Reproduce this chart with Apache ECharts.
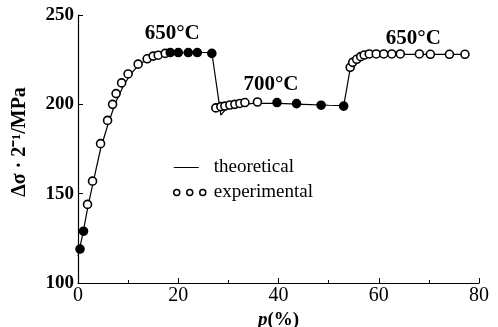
<!DOCTYPE html>
<html>
<head>
<meta charset="utf-8">
<script src="https://cdn.jsdelivr.net/npm/echarts@6/dist/echarts.min.js"></script>
<style>
  html, body { margin: 0; padding: 0; background: #fff; }
  #chart { width: 498px; height: 327px; }
</style>
</head>
<body>
<div id="chart"></div>
<script>
// experimental points
const expX = [0.4, 1.1, 1.9, 2.9, 4.5, 5.9, 6.9, 7.6, 8.7, 10.0, 12.0, 13.8, 15.0, 16.0, 17.4, 18.4, 20.0, 22.0, 23.8, 26.7,
  27.5, 28.5, 29.3, 30.3, 31.3, 32.3, 33.3, 35.8, 39.7, 43.6, 48.5, 53.0,
  54.3, 54.8, 55.6, 56.4, 57.1, 58.1, 59.5, 61.0, 62.6, 64.3, 68.1, 70.3, 74.1, 77.2];
const expY = [119, 129, 144, 157, 178, 191, 200, 206, 212, 217, 222.5, 225.5, 227, 227.5, 228.5, 229, 229, 229, 229, 228.5,
  198, 198.7, 199, 199.6, 200, 200.5, 201, 201.3, 201, 200.4, 199.5, 199,
  220.7, 223.5, 225.2, 226.7, 227.6, 228.2, 228.2, 228.2, 228.2, 228.2, 228.2, 228, 228, 228];
const filledIdx = [0, 1, 15, 16, 17, 18, 19, 28, 29, 30, 31];

// theoretical curve
const theoX = [0, 1, 2, 3, 4.5, 6, 7.5, 9, 10.5, 12.5, 15, 18, 22, 26.7, 28.5, 30, 35, 40, 45, 50, 53, 53.5, 54.3, 55, 56, 57.5, 60, 65, 70, 78];
const theoY = [115, 128, 143, 156, 175, 189, 201, 210, 217, 223, 226.5, 228.5, 229, 229, 194, 199, 200.5, 200.5, 200, 199.5, 199.3, 207, 220, 224, 226, 227.5, 228, 228, 228, 228];

// temperature labels
const tempText = ['650°C', '700°C', '650°C'];
const tempX = [18.8, 38.5, 66.9];
const tempY = [239.4, 211, 236.8];

const font = 'Liberation Serif';
const chart = echarts.init(document.getElementById('chart'), null, { renderer: 'canvas' });

const circ = (cx) => `M${cx - 3},3a3,3 0 1,0 6,0a3,3 0 1,0 -6,0Z`;
const circlesPath = 'path://' + circ(3) + circ(16) + circ(29);
const linePath = 'path://M0,2.4H25V3.6H0Z M31.99,0H32V6H31.99Z';

chart.setOption({
  animation: false,
  grid: { left: 78, right: 19, top: 15, bottom: 44, outerBoundsMode: 'none' },
  legend: {
    orient: 'vertical',
    left: 173,
    top: 158,
    padding: 0,
    itemGap: 6,
    itemWidth: 32,
    itemHeight: 6,
    symbolKeepAspect: true,
    textStyle: { fontFamily: font, fontSize: 19, color: '#000', padding: [0, 0, 0, 3] },
    data: [
      { name: 'theoretical', icon: linePath, itemStyle: { color: '#000', borderWidth: 0, opacity: 1 } },
      { name: 'experimental', icon: circlesPath, itemStyle: { color: 'rgba(0,0,0,0)', borderColor: '#000', borderWidth: 1.5, opacity: 1 } }
    ]
  },
  xAxis: {
    type: 'value',
    min: 0, max: 80, interval: 20,
    name: '{i|p}(%)',
    nameLocation: 'middle',
    nameGap: 22,
    nameTextStyle: {
      fontFamily: font, fontSize: 19, fontWeight: 'bold', color: '#000',
      rich: { i: { fontFamily: font, fontSize: 19, fontWeight: 'bold', fontStyle: 'italic', color: '#000' } }
    },
    axisLine: { lineStyle: { color: '#000', width: 1.2 } },
    axisTick: { inside: true, length: 5, lineStyle: { color: '#000' } },
    minorTick: { show: true, splitNumber: 2, length: 3, lineStyle: { color: '#000' } },
    axisLabel: { fontFamily: font, fontSize: 20, color: '#000', margin: 3 },
    splitLine: { show: false }
  },
  yAxis: {
    type: 'value',
    min: 100, max: 250, interval: 50,
    name: 'Δσ · 2⁻¹/MPa',
    nameLocation: 'middle',
    nameGap: 48,
    nameTextStyle: { fontFamily: font, fontSize: 20, fontWeight: 'bold', color: '#000', padding: [0, 0, 0, 14] },
    axisLine: { show: true, lineStyle: { color: '#000', width: 1.2 } },
    axisTick: { show: true, inside: true, length: 5, lineStyle: { color: '#000' } },
    axisLabel: { fontFamily: font, fontSize: 19, fontWeight: 'bold', color: '#000', margin: 4 },
    splitLine: { show: false }
  },
  series: [
    {
      name: 'theoretical',
      type: 'line',
      data: theoX.map((x, i) => [x, theoY[i]]),
      symbol: 'none',
      lineStyle: { color: '#000', width: 1.2 },
      itemStyle: { color: '#000' },
      z: 2
    },
    {
      name: 'experimental',
      type: 'scatter',
      data: expX.map((x, i) => ({
        value: [x, expY[i]],
        itemStyle: { color: filledIdx.includes(i) ? '#000' : '#fff' }
      })),
      symbol: 'circle',
      symbolSize: 8,
      itemStyle: { borderColor: '#000', borderWidth: 1.6, opacity: 1 },
      z: 3
    },
    {
      name: 'labels',
      type: 'scatter',
      data: tempX.map((x, i) => ({ value: [x, tempY[i]], label: { formatter: tempText[i] } })),
      symbolSize: 0,
      silent: true,
      itemStyle: { opacity: 1 },
      label: {
        show: true, position: 'inside', fontFamily: font, fontSize: 21, fontWeight: 'bold',
        color: '#000', textBorderWidth: 0
      }
    }
  ]
});
</script>
</body>
</html>
